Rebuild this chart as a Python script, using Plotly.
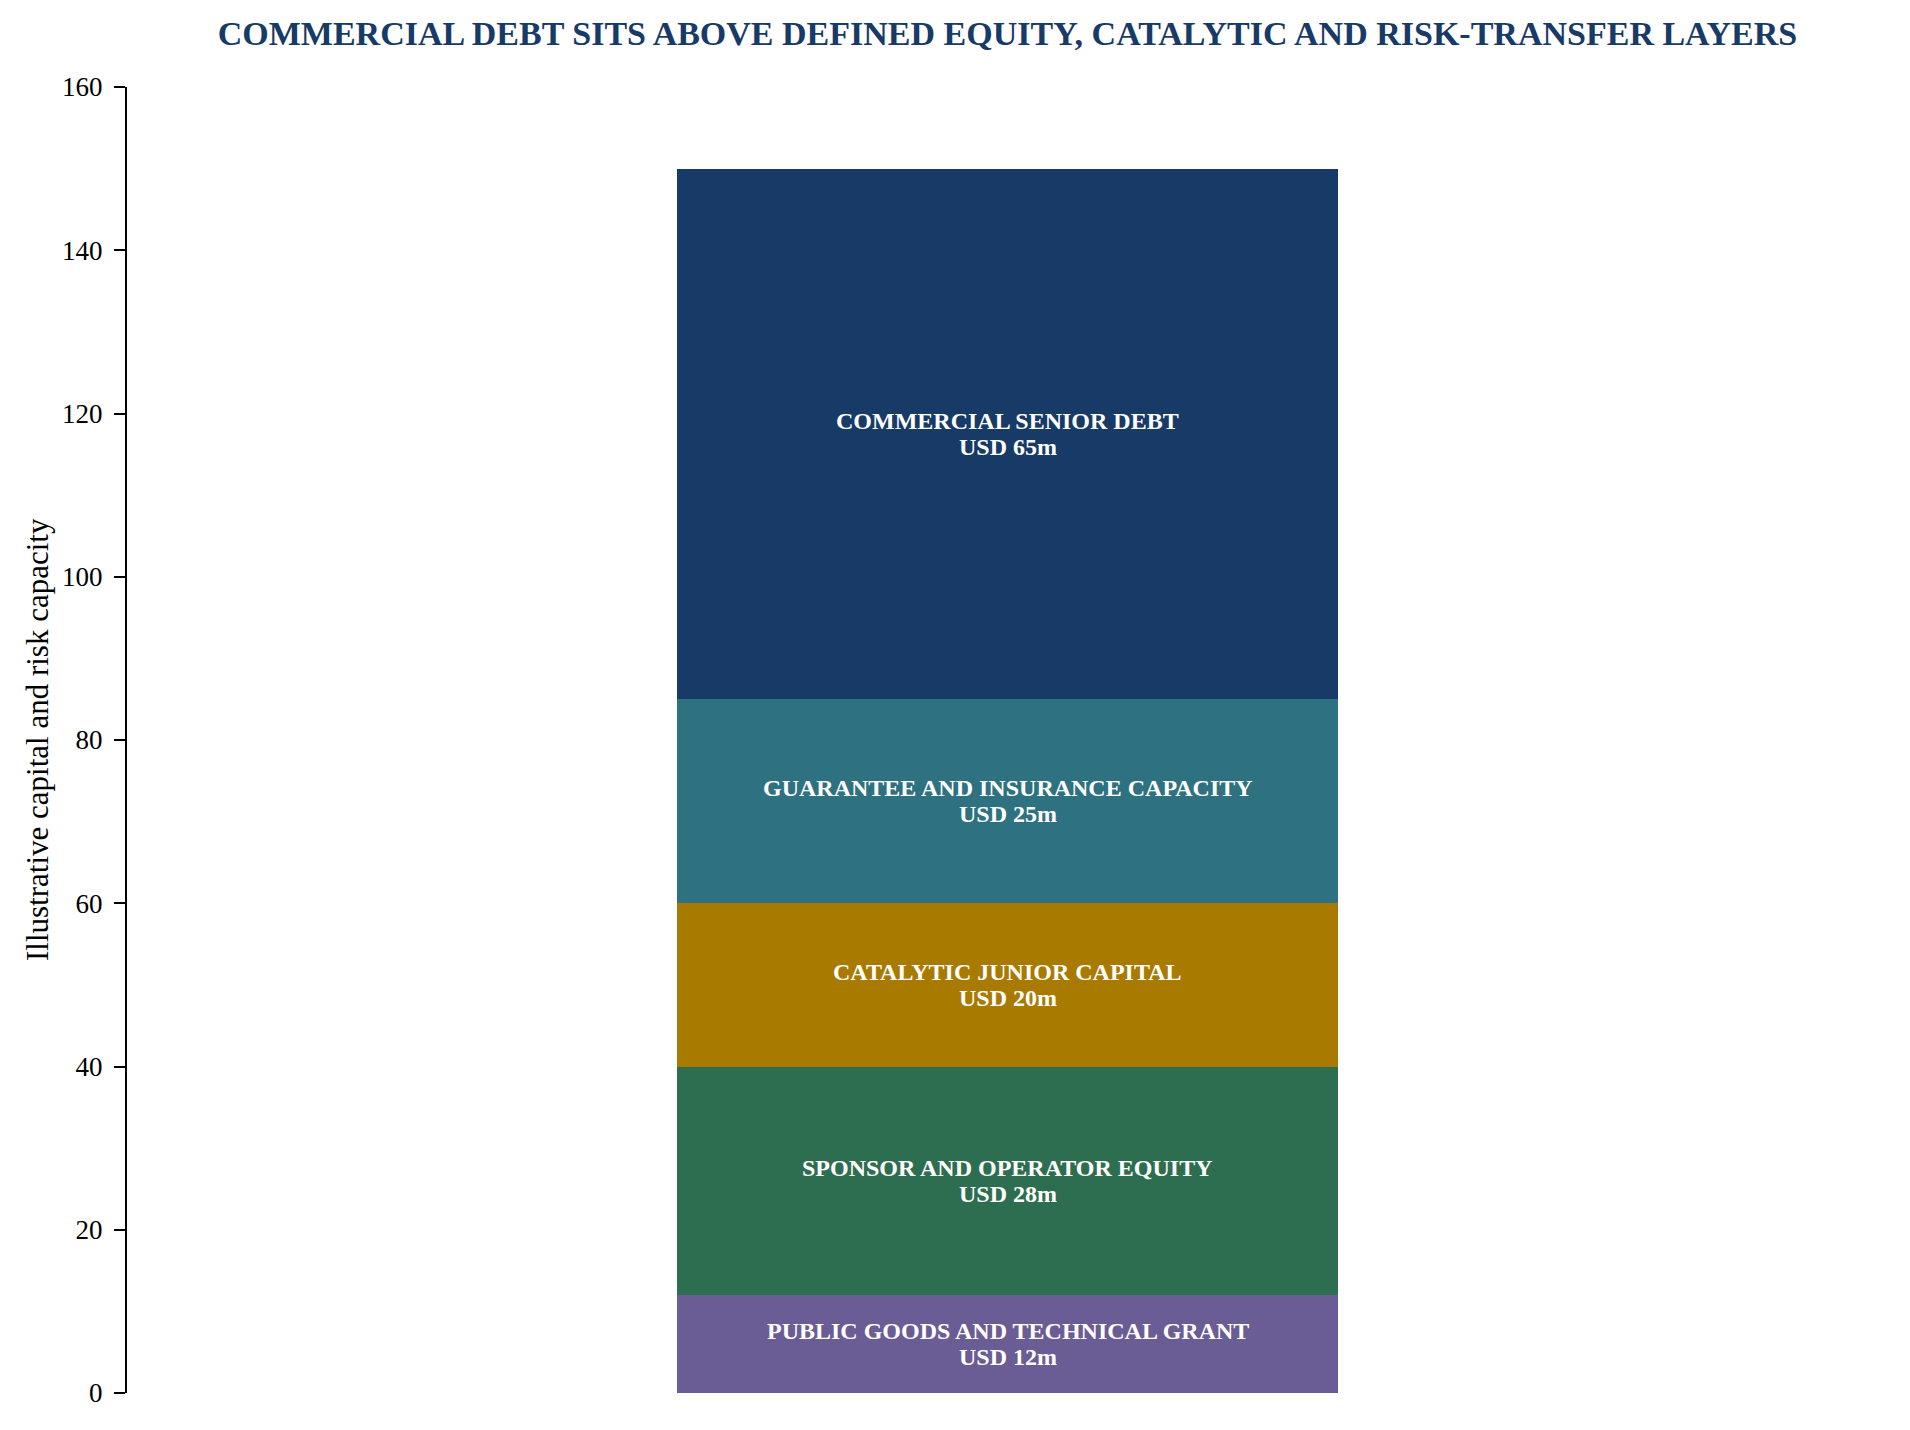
import plotly.graph_objects as go

# layers of the capital stack, bottom to top
layers = [
    "PUBLIC GOODS AND TECHNICAL GRANT",
    "SPONSOR AND OPERATOR EQUITY",
    "CATALYTIC JUNIOR CAPITAL",
    "GUARANTEE AND INSURANCE CAPACITY",
    "COMMERCIAL SENIOR DEBT",
]
amounts = [12, 28, 20, 25, 65]  # USD m
colors = ["#6a5c94", "#2e6e50", "#a87b00", "#2e7180", "#173a67"]

y_ticks = [0, 20, 40, 60, 80, 100, 120, 140, 160]

serif = "Liberation Serif, Times New Roman, serif"
navy = "#173a67"

fig = go.Figure()

labels = []
base = 0
for name, val, col in zip(layers, amounts, colors):
    fig.add_trace(go.Bar(
        x=[0], y=[val], width=0.6, name=name,
        marker=dict(color=col, line=dict(width=0)),
        hoverinfo="skip",
    ))
    mid = base + val / 2
    # label in two lines, tighter than plotly's <br> spacing
    for txt, shift in [(name, 13), (f"USD {val}m", -13)]:
        labels.append(dict(
            text=txt, x=0, y=mid, xref="x", yref="y", yshift=shift,
            showarrow=False, xanchor="center", yanchor="middle",
            font=dict(family=serif, size=24, color="white", weight="bold"),
        ))
    base += val

labels.append(dict(
    text="Illustrative capital and risk capacity",
    xref="paper", yref="paper", x=(29 - 119) / 1761, y=0.5,
    xanchor="center", yanchor="middle", textangle=-90, showarrow=False,
    font=dict(family=serif, size=31, color="black"),
))

fig.update_layout(
    width=1910, height=1430,
    barmode="stack", bargap=0,
    showlegend=False,
    plot_bgcolor="white", paper_bgcolor="white",
    margin=dict(l=119, r=30, t=79, b=45),
    font=dict(family=serif, color="black"),
    title=dict(
        text="COMMERCIAL DEBT SITS ABOVE DEFINED EQUITY, CATALYTIC AND RISK-TRANSFER LAYERS",
        font=dict(family=serif, size=34, color=navy, weight="bold"),
        x=0.5, xref="paper", xanchor="center",
        y=1 - 25 / 1430, yref="container", yanchor="middle",
    ),
    xaxis=dict(range=[-0.8, 0.8], visible=False, fixedrange=True),
    yaxis=dict(
        range=[0, 160], tickvals=y_ticks, ticks="outside", ticklen=11, tickwidth=2,
        tickcolor="black", showline=True, linecolor="black", linewidth=2,
        showgrid=False, zeroline=False,
        tickfont=dict(family=serif, size=27, color="black"),
        ticklabelstandoff=6,
    ),
    annotations=labels,
)

fig.write_html("out.html")
